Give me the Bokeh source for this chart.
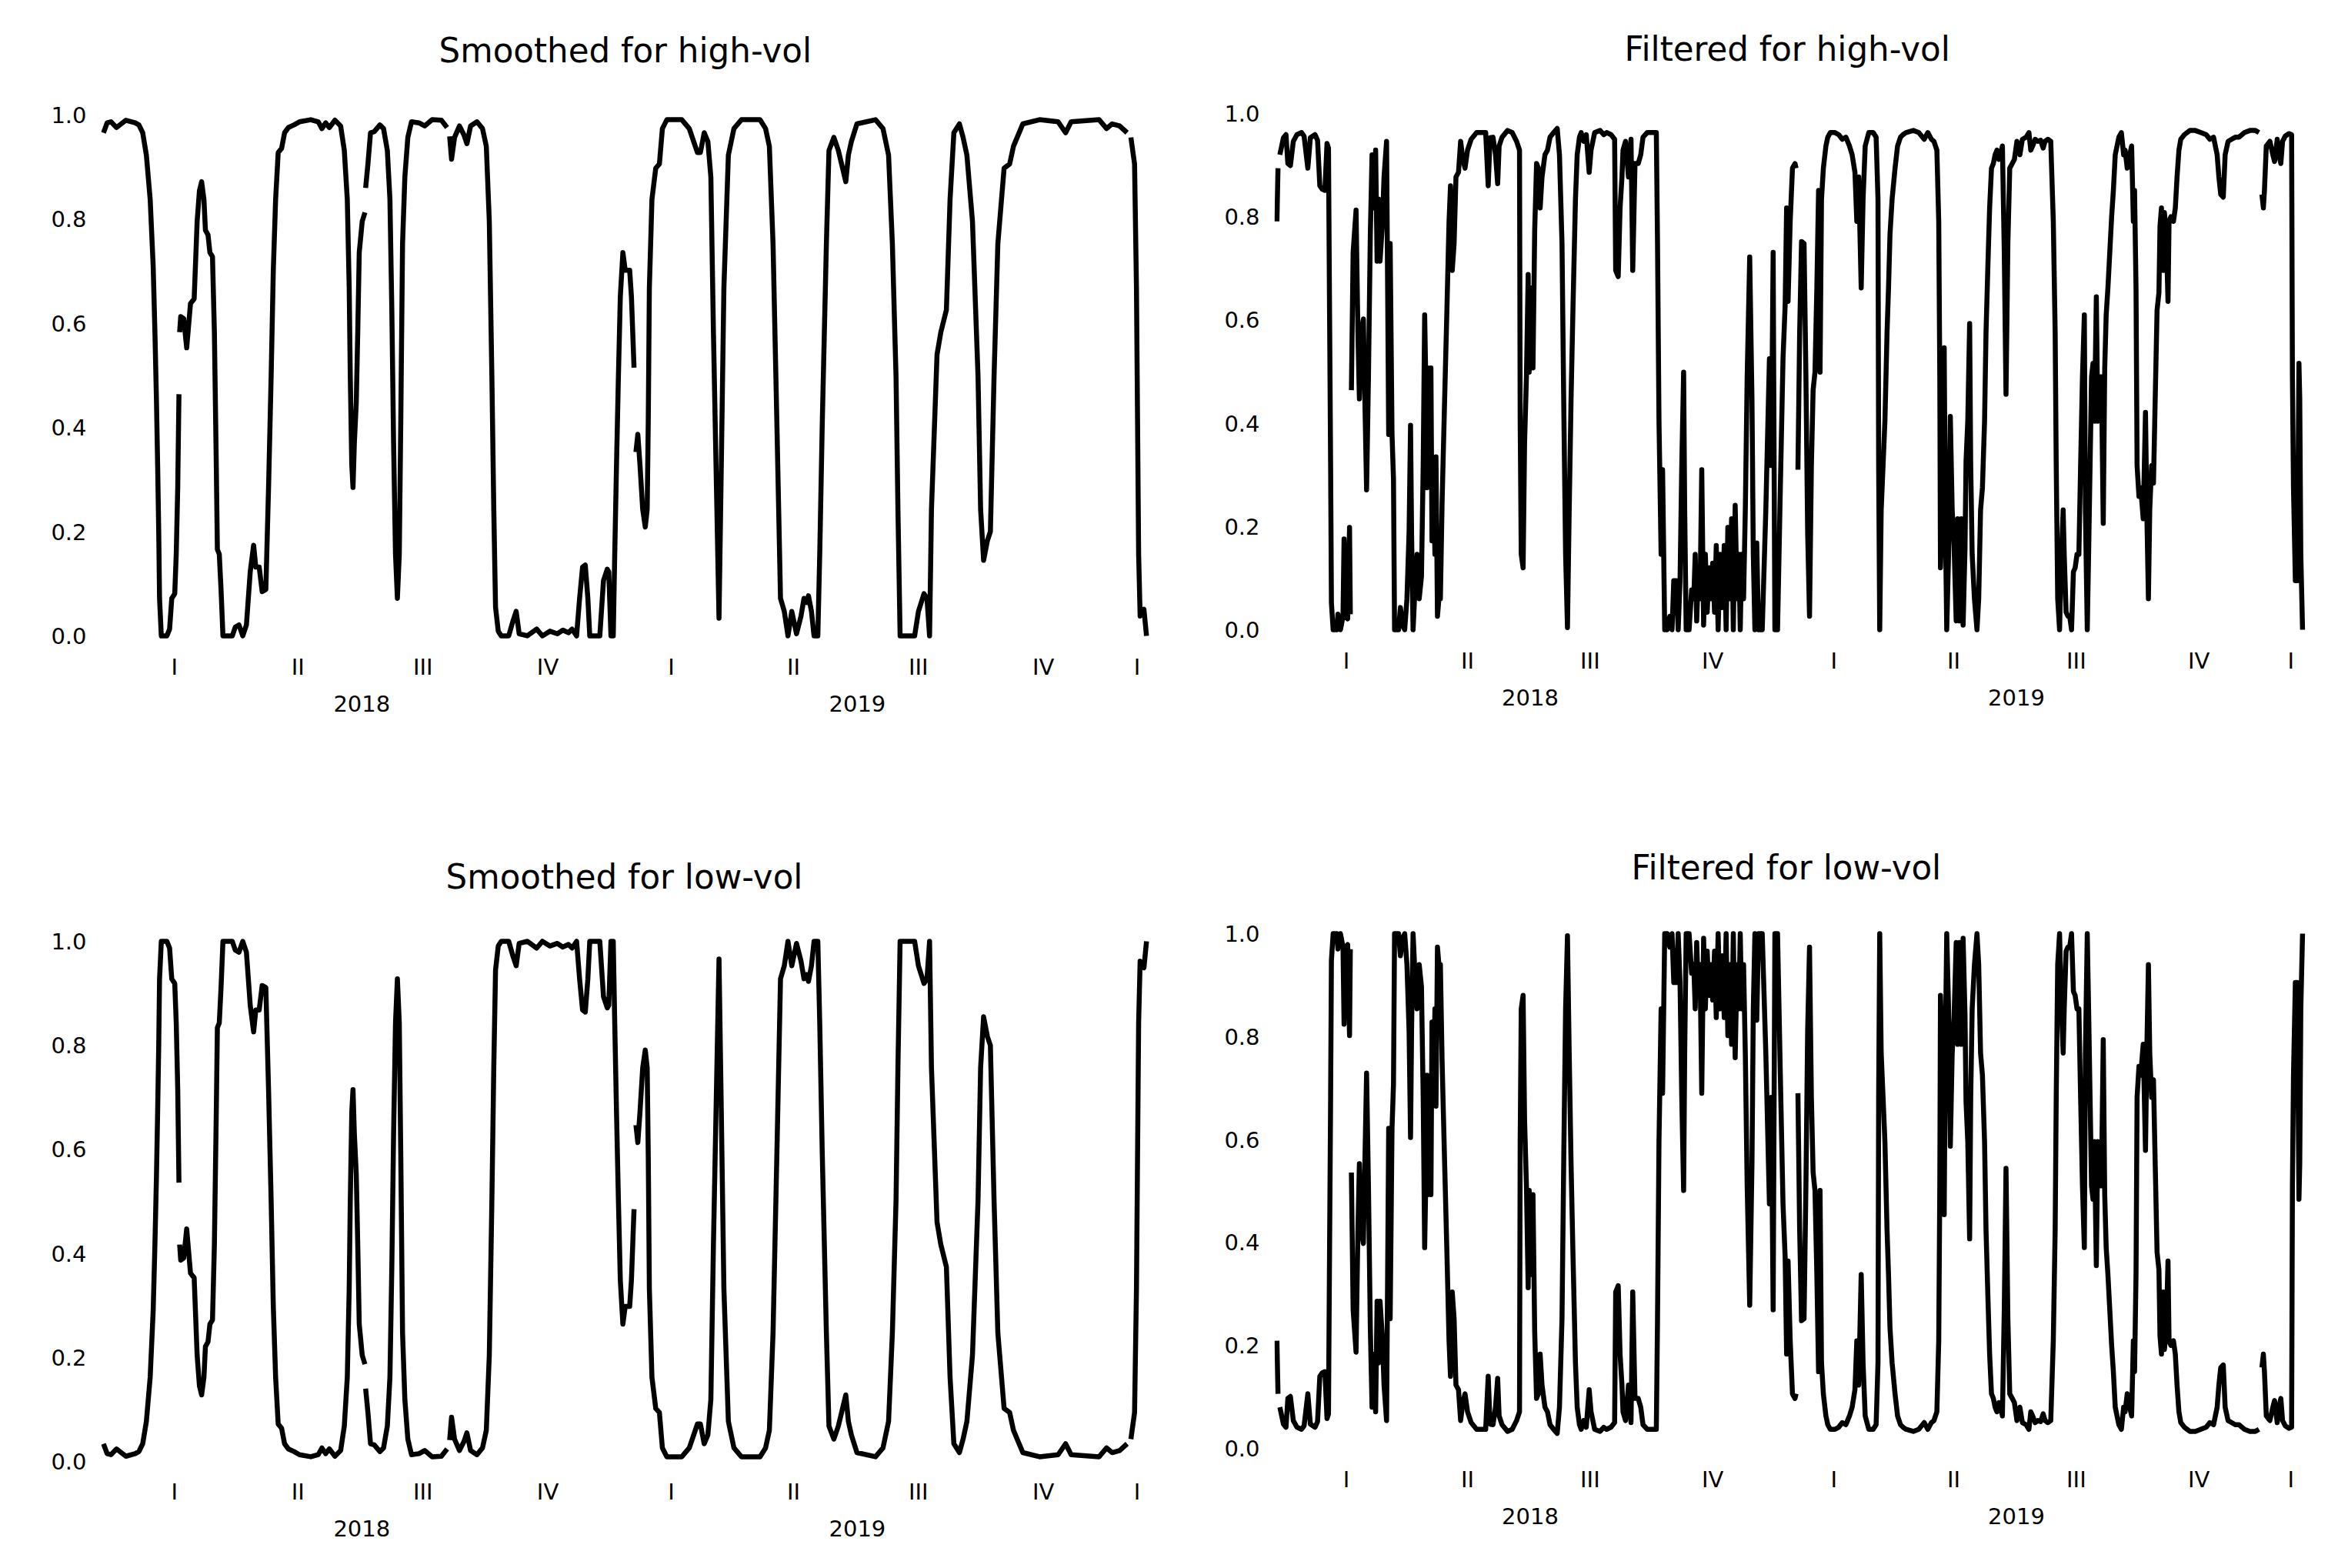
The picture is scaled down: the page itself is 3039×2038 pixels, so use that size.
import numpy as np
from bokeh.embed import file_html
from bokeh.layouts import column, row
from bokeh.models import FixedTicker, LinearAxis, PrintfTickFormatter, Range1d, Title
from bokeh.plotting import figure
from bokeh.resources import INLINE

FONT = "DejaVu Sans"

# Regime probabilities from the two-state volatility model.
# x positions are calendar days counted from 2018-01-01; None marks a break in the series.

smooth_day = [
    -8.3, -5.6, -2.8, 1.3, 8.2, 15.1, 17.8, 20.6, 23.3, 26.1,
    28.3, 29.6, 30.7, 31.6, 32.4, 33.0, 34.3, 38.4, 40.4, 42.0,
    44.2, 45.3, 46.4, 47.3,
    None,
    47.8, 48.6, 50.8, 53.0, 55.8, 58.5, 60.7, 62.4, 64.0, 65.7,
    66.8, 68.7, 70.1, 72.0, 73.4, 74.8, 75.6, 77.0, 78.3, 79.7,
    86.6, 88.8, 91.5, 94.3, 97.0, 99.8, 102.3, 103.9, 106.4, 108.6,
    111.3, 113.3, 115.2, 116.8, 118.5, 120.4, 122.9, 125.1, 127.9, 132.0,
    136.1, 144.4, 149.9, 152.6, 155.4, 158.1, 162.2, 166.4, 169.1, 171.3,
    172.7, 173.5, 174.6, 175.5, 176.5, 177.9, 179.0, 180.1, 182.3, 184.3,
    None,
    184.8, 186.5, 188.4, 191.1, 195.3, 198.0, 200.8, 202.7, 204.1, 205.4,
    206.8, 208.2, 209.6, 210.7, 212.0, 213.7, 215.9, 218.6, 224.1, 228.3,
    233.8, 240.6, 244.8,
    None,
    246.7, 248.1, 250.3, 253.9, 257.2, 259.4, 262.1, 266.8, 270.9, 273.7,
    275.9, 277.8, 279.2, 280.5, 282.5, 284.7, 290.2, 293.5, 295.7, 297.9,
    303.9, 310.8, 315.0, 320.5, 326.0, 330.1, 334.2, 336.9, 340.2, 342.4,
    344.6, 346.6, 348.5, 349.9, 357.3, 360.0, 362.8, 363.9, 365.5, 367.2,
    368.3, 369.6, 371.0, 372.4, 374.3, 376.0, 379.3, 380.6, 382.5,
    None,
    383.9, 385.3, 386.9, 388.9, 390.8, 392.2, 393.0, 393.8, 395.7, 398.5,
    401.2, 403.4, 406.7, 417.7, 423.2, 429.2, 431.4, 434.2, 436.9, 439.1,
    441.0, 442.9, 445.1, 446.8, 448.7, 452.0, 456.1, 461.6, 475.3, 479.4,
    482.2, 484.9, 487.7, 490.4, 493.2, 495.9, 498.7, 502.2, 505.5, 507.7,
    509.6, 511.0, 513.2, 515.1, 517.9, 519.3, 521.2, 524.2, 526.1, 529.7,
    533.0, 538.5, 540.4, 542.6, 546.7, 560.4, 565.9, 570.0, 572.8, 575.5,
    576.9, 578.5, 582.4, 589.2, 592.0, 596.1, 598.3, 600.2, 601.6, 605.7,
    608.5, 612.6, 615.3, 618.1, 622.2, 624.9, 627.7, 631.8, 635.9, 637.8,
    640.0, 642.8, 645.0, 647.7, 650.5, 655.1, 659.2, 662.0, 668.9, 681.2,
    694.9, 700.4, 704.5, 725.1, 730.6, 734.7, 740.2, 745.7,
    None,
    748.5, 751.2, 752.6, 753.4, 754.2, 755.3, 758.1, 760.0,
]

smooth_high = [
    0.966, 0.985, 0.987, 0.976, 0.990, 0.985, 0.981, 0.966, 0.923, 0.838,
    0.711, 0.583, 0.455, 0.328, 0.200, 0.072, 0.000, 0.000, 0.013, 0.072,
    0.081, 0.157, 0.285, 0.464,
    None,
    0.583, 0.613, 0.609, 0.553, 0.638, 0.647, 0.796, 0.855, 0.872, 0.838,
    0.779, 0.770, 0.736, 0.728, 0.583, 0.328, 0.166, 0.157, 0.089, 0.000,
    0.000, 0.017, 0.021, 0.000, 0.021, 0.123, 0.174, 0.132, 0.132, 0.085,
    0.089, 0.285, 0.498, 0.702, 0.838, 0.928, 0.936, 0.966, 0.976, 0.981,
    0.987, 0.991, 0.987, 0.974, 0.985, 0.976, 0.990, 0.979, 0.932, 0.838,
    0.668, 0.498, 0.328, 0.285, 0.370, 0.447, 0.583, 0.736, 0.796, 0.813,
    None,
    0.860, 0.906, 0.966, 0.968, 0.981, 0.974, 0.932, 0.838, 0.626, 0.370,
    0.157, 0.072, 0.157, 0.413, 0.753, 0.881, 0.957, 0.987, 0.985, 0.979,
    0.991, 0.990, 0.976,
    None,
    0.959, 0.915, 0.957, 0.979, 0.962, 0.945, 0.979, 0.987, 0.974, 0.940,
    0.796, 0.498, 0.243, 0.055, 0.009, 0.000, 0.000, 0.030, 0.047, 0.004,
    0.000, 0.013, 0.000, 0.009, 0.004, 0.011, 0.006, 0.013, 0.000, 0.072,
    0.132, 0.136, 0.072, 0.000, 0.000, 0.106, 0.128, 0.123, 0.000, 0.000,
    0.157, 0.328, 0.498, 0.651, 0.736, 0.702, 0.702, 0.651, 0.515,
    None,
    0.353, 0.387, 0.328, 0.243, 0.209, 0.243, 0.413, 0.668, 0.838, 0.898,
    0.906, 0.974, 0.991, 0.991, 0.974, 0.928, 0.928, 0.966, 0.949, 0.881,
    0.583, 0.328, 0.034, 0.328, 0.668, 0.923, 0.974, 0.991, 0.991, 0.974,
    0.940, 0.753, 0.413, 0.072, 0.047, 0.000, 0.047, 0.004, 0.038, 0.072,
    0.064, 0.077, 0.047, 0.000, 0.000, 0.157, 0.413, 0.753, 0.932, 0.957,
    0.932, 0.872, 0.923, 0.949, 0.983, 0.991, 0.974, 0.923, 0.753, 0.498,
    0.243, 0.000, 0.000, 0.000, 0.047, 0.081, 0.072, 0.000, 0.243, 0.540,
    0.583, 0.626, 0.838, 0.966, 0.983, 0.957, 0.923, 0.796, 0.498, 0.243,
    0.145, 0.183, 0.200, 0.498, 0.753, 0.898, 0.906, 0.940, 0.983, 0.991,
    0.987, 0.966, 0.987, 0.991, 0.974, 0.983, 0.979, 0.966,
    None,
    0.957, 0.906, 0.668, 0.413, 0.157, 0.038, 0.051, 0.000,
]

smooth_low = [
    0.034, 0.015, 0.013, 0.024, 0.010, 0.015, 0.019, 0.034, 0.077, 0.162,
    0.289, 0.417, 0.545, 0.672, 0.800, 0.928, 1.000, 1.000, 0.987, 0.928,
    0.919, 0.843, 0.715, 0.536,
    None,
    0.417, 0.387, 0.391, 0.447, 0.362, 0.353, 0.204, 0.145, 0.128, 0.162,
    0.221, 0.230, 0.264, 0.272, 0.417, 0.672, 0.834, 0.843, 0.911, 1.000,
    1.000, 0.983, 0.979, 1.000, 0.979, 0.877, 0.826, 0.868, 0.868, 0.915,
    0.911, 0.715, 0.502, 0.298, 0.162, 0.072, 0.064, 0.034, 0.024, 0.019,
    0.013, 0.009, 0.013, 0.026, 0.015, 0.024, 0.010, 0.021, 0.068, 0.162,
    0.332, 0.502, 0.672, 0.715, 0.630, 0.553, 0.417, 0.264, 0.204, 0.187,
    None,
    0.140, 0.094, 0.034, 0.032, 0.019, 0.026, 0.068, 0.162, 0.374, 0.630,
    0.843, 0.928, 0.843, 0.587, 0.247, 0.119, 0.043, 0.013, 0.015, 0.021,
    0.009, 0.010, 0.024,
    None,
    0.041, 0.085, 0.043, 0.021, 0.038, 0.055, 0.021, 0.013, 0.026, 0.060,
    0.204, 0.502, 0.757, 0.945, 0.991, 1.000, 1.000, 0.970, 0.953, 0.996,
    1.000, 0.987, 1.000, 0.991, 0.996, 0.989, 0.994, 0.987, 1.000, 0.928,
    0.868, 0.864, 0.928, 1.000, 1.000, 0.894, 0.872, 0.877, 1.000, 1.000,
    0.843, 0.672, 0.502, 0.349, 0.264, 0.298, 0.298, 0.349, 0.485,
    None,
    0.647, 0.613, 0.672, 0.757, 0.791, 0.757, 0.587, 0.332, 0.162, 0.102,
    0.094, 0.026, 0.009, 0.009, 0.026, 0.072, 0.072, 0.034, 0.051, 0.119,
    0.417, 0.672, 0.966, 0.672, 0.332, 0.077, 0.026, 0.009, 0.009, 0.026,
    0.060, 0.247, 0.587, 0.928, 0.953, 1.000, 0.953, 0.996, 0.962, 0.928,
    0.936, 0.923, 0.953, 1.000, 1.000, 0.843, 0.587, 0.247, 0.068, 0.043,
    0.068, 0.128, 0.077, 0.051, 0.017, 0.009, 0.026, 0.077, 0.247, 0.502,
    0.757, 1.000, 1.000, 1.000, 0.953, 0.919, 0.928, 1.000, 0.757, 0.460,
    0.417, 0.374, 0.162, 0.034, 0.017, 0.043, 0.077, 0.204, 0.502, 0.757,
    0.855, 0.817, 0.800, 0.502, 0.247, 0.102, 0.094, 0.060, 0.017, 0.009,
    0.013, 0.034, 0.013, 0.009, 0.026, 0.017, 0.021, 0.034,
    None,
    0.043, 0.094, 0.332, 0.587, 0.843, 0.962, 0.949, 1.000,
]

filter_day = [
    -8.1, -7.3,
    None,
    -5.9, -3.2, -1.3, 0.1, 2.0, 4.2, 6.9, 10.4, 12.3, 15.1,
    17.0, 20.5, 22.4, 24.1, 26.0, 27.9, 29.5, 30.6, 31.4, 32.2,
    32.8, 34.1, 36.9, 37.7, 39.6, 41.5, 42.3, 43.7, 45.0, 46.4,
    47.0,
    None,
    47.8, 49.1, 51.3, 52.7, 53.8, 55.1, 56.8, 57.9, 59.2, 60.6,
    62.0, 63.3, 65.0, 66.0, 67.1, 68.2, 69.3, 71.0, 72.3, 74.2,
    75.0, 75.8, 76.9, 78.3, 79.4, 80.2, 81.8, 83.2, 84.6, 86.2,
    87.8, 89.5, 91.1, 92.2, 93.0, 94.1, 95.5, 97.1, 98.7, 100.4,
    101.7, 102.8, 103.6, 104.5, 105.3, 106.4, 107.5, 108.3, 109.4, 110.5,
    111.3, 112.4, 113.5, 114.6, 115.9, 117.8, 119.5, 121.1, 122.2, 123.5,
    124.9, 126.3, 128.2, 129.8, 131.5, 133.1, 135.0, 137.7, 141.8, 145.9,
    148.6, 150.5, 151.9, 154.1, 156.0, 157.6, 158.7, 160.9, 165.0, 168.5,
    171.8, 174.0, 174.5, 175.3, 176.7, 177.8, 179.2, 180.5, 181.3, 182.7,
    184.1, 185.4, 186.8, 188.2, 189.5, 190.9, 193.1, 195.0, 196.9, 199.6,
    202.3, 204.0, 205.9, 207.2, 208.6, 210.0, 211.3, 212.7, 214.1, 216.0,
    217.3, 219.0, 220.3, 222.2, 224.1, 226.3, 227.7, 230.4, 234.5, 237.2,
    239.4, 242.7, 245.4, 246.2, 248.1, 249.5, 250.9, 251.7, 253.6, 255.8,
    257.7, 259.0, 260.7, 263.1, 265.0, 266.7, 269.9, 272.7, 276.7, 277.6,
    278.7, 280.3, 281.4, 283.0, 284.9, 286.8, 288.5, 289.8, 291.7, 293.1,
    294.5, 295.8, 297.2, 298.0, 299.1, 301.3, 303.2, 304.8, 305.9, 307.0,
    308.1, 309.5, 310.8, 312.2, 313.5, 314.9, 316.3, 317.6, 319.0, 320.4,
    321.7, 323.1, 324.5, 326.1, 327.7, 329.1, 330.4, 331.8, 333.2, 334.5,
    335.9, 337.3, 338.6, 339.7, 340.8, 342.2, 343.5, 344.9, 346.8, 348.5,
    349.5, 350.7, 352.1, 353.4, 356.2, 358.9, 361.6, 363.0, 364.4, 365.7,
    367.7, 369.8, 371.8, 373.4, 374.5, 375.6, 377.2, 378.9, 380.8, 381.6,
    None,
    383.0, 384.3, 385.7, 387.6, 389.0, 390.3, 391.7, 393.1, 394.4, 395.8,
    397.2, 398.5, 399.6, 400.7, 402.1, 404.0, 405.4, 407.3, 410.8, 413.6,
    416.3, 419.0, 421.7, 423.7, 425.8, 427.2, 428.6, 430.5, 431.9, 433.5,
    436.2, 439.5, 441.7, 443.1, 443.6, 444.4, 445.5, 446.9, 448.3, 449.9,
    451.0, 452.1, 453.7, 455.9, 457.8, 460.0, 461.9, 464.1, 469.6, 473.7,
    477.8, 480.5, 483.2, 485.1, 487.3, 488.7, 489.5, 490.0, 491.4, 492.8,
    493.6, 494.7, 496.1, 497.4, 498.8, 500.2, 501.8, 502.9, 504.3, 505.6,
    507.0, 508.4, 509.2, 510.5, 511.9, 512.7, 513.8, 515.5, 517.4, 518.7,
    520.1, 521.5, 523.1, 524.2, 525.6, 526.9, 528.3, 529.7, 531.0, 532.4,
    533.8, 535.1, 536.5, 537.9, 539.2, 540.6, 542.0, 543.9, 545.5, 547.4,
    549.6, 551.5, 554.3, 556.4, 557.8, 559.2, 561.1, 563.0, 565.2, 567.1,
    568.5, 570.6, 572.8, 574.7, 576.1, 576.9, 578.0, 579.4, 580.8, 582.1,
    582.9, 584.3, 585.7, 587.0, 588.4, 589.8, 591.1, 592.5, 593.9, 595.2,
    596.6, 598.0, 598.8, 600.2, 601.2, 602.3, 603.4, 604.5, 605.6, 607.0,
    608.1, 609.4, 610.8, 612.2, 613.3, 614.4, 615.7, 617.1, 618.5, 619.8,
    621.2, 623.9, 625.8, 627.5, 628.6, 630.2, 632.1, 633.5, 634.8, 635.7,
    636.8, 637.6, 639.0, 640.3, 642.2, 643.9, 645.0, 646.1, 647.1, 648.5,
    649.9, 651.2, 652.6, 654.0, 654.8, 655.9, 657.3, 658.1, 659.4, 660.8,
    661.6, 663.0, 664.9, 666.3, 667.6, 669.0, 670.4, 673.1, 677.2, 681.3,
    685.4, 689.5, 692.2, 695.0, 697.7, 699.0, 700.4, 702.3, 703.7, 705.9,
    708.6, 711.3, 714.1, 718.2, 722.3, 726.4, 729.1,
    None,
    731.3, 732.4, 733.2, 734.6, 737.3, 739.5, 740.8, 742.8, 744.1, 745.5,
    746.8, 748.8, 751.5, 753.6, 754.2, 755.0, 756.4, 757.8, 759.1, 759.7,
    760.5, 761.8,
]

filter_high = [
    0.791, 0.894,
    None,
    0.920, 0.953, 0.959, 0.903, 0.899, 0.946, 0.959, 0.963, 0.956, 0.894,
    0.953, 0.959, 0.948, 0.860, 0.853, 0.851, 0.942, 0.933, 0.619, 0.318,
    0.052, 0.000, 0.000, 0.030, 0.000, 0.026, 0.176, 0.026, 0.021, 0.198,
    0.030,
    None,
    0.464, 0.731, 0.813, 0.576, 0.447, 0.576, 0.602, 0.447, 0.271, 0.490,
    0.765, 0.920, 0.817, 0.929, 0.714, 0.834, 0.714, 0.782, 0.877, 0.946,
    0.662, 0.378, 0.748, 0.378, 0.292, 0.000, 0.000, 0.000, 0.043, 0.009,
    0.000, 0.060, 0.189, 0.396, 0.181, 0.000, 0.077, 0.146, 0.060, 0.103,
    0.318, 0.610, 0.490, 0.275, 0.507, 0.284, 0.507, 0.172, 0.318, 0.146,
    0.335, 0.026, 0.060, 0.060, 0.249, 0.447, 0.619, 0.791, 0.860, 0.696,
    0.748, 0.877, 0.886, 0.946, 0.911, 0.894, 0.929, 0.950, 0.963, 0.963,
    0.963, 0.860, 0.953, 0.954, 0.920, 0.864, 0.937, 0.954, 0.967, 0.963,
    0.946, 0.929, 0.404, 0.146, 0.120, 0.361, 0.490, 0.688, 0.499, 0.662,
    0.507, 0.774, 0.903, 0.894, 0.817, 0.877, 0.920, 0.929, 0.954, 0.963,
    0.971, 0.920, 0.748, 0.439, 0.146, 0.004, 0.232, 0.447, 0.619, 0.834,
    0.920, 0.954, 0.963, 0.946, 0.959, 0.886, 0.929, 0.963, 0.967, 0.959,
    0.963, 0.959, 0.950, 0.696, 0.684, 0.817, 0.877, 0.929, 0.946, 0.877,
    0.950, 0.696, 0.903, 0.903, 0.920, 0.954, 0.963, 0.963, 0.963, 0.748,
    0.404, 0.146, 0.310, 0.000, 0.000, 0.026, 0.000, 0.095, 0.095, 0.000,
    0.095, 0.318, 0.499, 0.232, 0.000, 0.000, 0.077, 0.060, 0.146, 0.017,
    0.103, 0.060, 0.310, 0.009, 0.146, 0.034, 0.120, 0.060, 0.129, 0.034,
    0.163, 0.000, 0.146, 0.043, 0.163, 0.000, 0.198, 0.060, 0.215, 0.000,
    0.241, 0.060, 0.146, 0.000, 0.146, 0.060, 0.232, 0.490, 0.722, 0.447,
    0.146, 0.000, 0.168, 0.000, 0.000, 0.232, 0.525, 0.318, 0.731, 0.000,
    0.000, 0.275, 0.525, 0.628, 0.817, 0.636, 0.791, 0.894, 0.903, 0.894,
    None,
    0.310, 0.576, 0.752, 0.748, 0.490, 0.189, 0.026, 0.318, 0.464, 0.499,
    0.662, 0.851, 0.499, 0.834, 0.894, 0.937, 0.954, 0.963, 0.963, 0.959,
    0.950, 0.954, 0.937, 0.920, 0.886, 0.791, 0.877, 0.662, 0.834, 0.937,
    0.963, 0.963, 0.954, 0.834, 0.318, 0.000, 0.232, 0.318, 0.404, 0.576,
    0.662, 0.765, 0.834, 0.894, 0.937, 0.954, 0.959, 0.963, 0.967, 0.963,
    0.950, 0.963, 0.950, 0.946, 0.929, 0.791, 0.490, 0.120, 0.232, 0.546,
    0.232, 0.000, 0.146, 0.413, 0.232, 0.163, 0.017, 0.215, 0.017, 0.215,
    0.009, 0.155, 0.327, 0.404, 0.593, 0.318, 0.146, 0.060, 0.000, 0.060,
    0.232, 0.275, 0.404, 0.576, 0.705, 0.817, 0.894, 0.903, 0.920, 0.929,
    0.911, 0.920, 0.937, 0.731, 0.456, 0.748, 0.894, 0.903, 0.911, 0.946,
    0.920, 0.950, 0.954, 0.963, 0.929, 0.937, 0.950, 0.946, 0.948, 0.933,
    0.946, 0.950, 0.946, 0.791, 0.576, 0.318, 0.060, 0.000, 0.146, 0.232,
    0.146, 0.034, 0.026, 0.026, 0.000, 0.112, 0.120, 0.146, 0.146, 0.318,
    0.490, 0.610, 0.232, 0.000, 0.146, 0.318, 0.490, 0.516, 0.404, 0.645,
    0.404, 0.490, 0.490, 0.206, 0.507, 0.610, 0.662, 0.731, 0.800, 0.851,
    0.920, 0.954, 0.963, 0.920, 0.929, 0.894, 0.920, 0.937, 0.791, 0.851,
    0.662, 0.318, 0.258, 0.275, 0.215, 0.421, 0.215, 0.060, 0.232, 0.318,
    0.284, 0.447, 0.619, 0.653, 0.782, 0.817, 0.696, 0.808, 0.774, 0.636,
    0.791, 0.800, 0.791, 0.817, 0.877, 0.929, 0.950, 0.959, 0.967, 0.967,
    0.963, 0.959, 0.950, 0.954, 0.920, 0.877, 0.843, 0.838, 0.920, 0.946,
    0.950, 0.954, 0.954, 0.963, 0.967, 0.967, 0.963,
    None,
    0.843, 0.817, 0.851, 0.937, 0.946, 0.920, 0.907, 0.950, 0.920, 0.903,
    0.946, 0.956, 0.961, 0.959, 0.490, 0.275, 0.095, 0.095, 0.516, 0.447,
    0.146, 0.000,
]

filter_low = [
    0.209, 0.106,
    None,
    0.080, 0.047, 0.041, 0.097, 0.101, 0.054, 0.041, 0.037, 0.044, 0.106,
    0.047, 0.041, 0.052, 0.140, 0.147, 0.149, 0.058, 0.067, 0.381, 0.682,
    0.948, 1.000, 1.000, 0.970, 1.000, 0.974, 0.824, 0.974, 0.979, 0.802,
    0.970,
    None,
    0.536, 0.269, 0.187, 0.424, 0.553, 0.424, 0.398, 0.553, 0.729, 0.510,
    0.235, 0.080, 0.183, 0.071, 0.286, 0.166, 0.286, 0.218, 0.123, 0.054,
    0.338, 0.622, 0.252, 0.622, 0.708, 1.000, 1.000, 1.000, 0.957, 0.991,
    1.000, 0.940, 0.811, 0.604, 0.819, 1.000, 0.923, 0.854, 0.940, 0.897,
    0.682, 0.390, 0.510, 0.725, 0.493, 0.716, 0.493, 0.828, 0.682, 0.854,
    0.665, 0.974, 0.940, 0.940, 0.751, 0.553, 0.381, 0.209, 0.140, 0.304,
    0.252, 0.123, 0.114, 0.054, 0.089, 0.106, 0.071, 0.050, 0.037, 0.037,
    0.037, 0.140, 0.047, 0.046, 0.080, 0.136, 0.063, 0.046, 0.033, 0.037,
    0.054, 0.071, 0.596, 0.854, 0.880, 0.639, 0.510, 0.312, 0.501, 0.338,
    0.493, 0.226, 0.097, 0.106, 0.183, 0.123, 0.080, 0.071, 0.046, 0.037,
    0.029, 0.080, 0.252, 0.561, 0.854, 0.996, 0.768, 0.553, 0.381, 0.166,
    0.080, 0.046, 0.037, 0.054, 0.041, 0.114, 0.071, 0.037, 0.033, 0.041,
    0.037, 0.041, 0.050, 0.304, 0.316, 0.183, 0.123, 0.071, 0.054, 0.123,
    0.050, 0.304, 0.097, 0.097, 0.080, 0.046, 0.037, 0.037, 0.037, 0.252,
    0.596, 0.854, 0.690, 1.000, 1.000, 0.974, 1.000, 0.905, 0.905, 1.000,
    0.905, 0.682, 0.501, 0.768, 1.000, 1.000, 0.923, 0.940, 0.854, 0.983,
    0.897, 0.940, 0.690, 0.991, 0.854, 0.966, 0.880, 0.940, 0.871, 0.966,
    0.837, 1.000, 0.854, 0.957, 0.837, 1.000, 0.802, 0.940, 0.785, 1.000,
    0.759, 0.940, 0.854, 1.000, 0.854, 0.940, 0.768, 0.510, 0.278, 0.553,
    0.854, 1.000, 0.832, 1.000, 1.000, 0.768, 0.475, 0.682, 0.269, 1.000,
    1.000, 0.725, 0.475, 0.372, 0.183, 0.364, 0.209, 0.106, 0.097, 0.106,
    None,
    0.690, 0.424, 0.248, 0.252, 0.510, 0.811, 0.974, 0.682, 0.536, 0.501,
    0.338, 0.149, 0.501, 0.166, 0.106, 0.063, 0.046, 0.037, 0.037, 0.041,
    0.050, 0.046, 0.063, 0.080, 0.114, 0.209, 0.123, 0.338, 0.166, 0.063,
    0.037, 0.037, 0.046, 0.166, 0.682, 1.000, 0.768, 0.682, 0.596, 0.424,
    0.338, 0.235, 0.166, 0.106, 0.063, 0.046, 0.041, 0.037, 0.033, 0.037,
    0.050, 0.037, 0.050, 0.054, 0.071, 0.209, 0.510, 0.880, 0.768, 0.454,
    0.768, 1.000, 0.854, 0.587, 0.768, 0.837, 0.983, 0.785, 0.983, 0.785,
    0.991, 0.845, 0.673, 0.596, 0.407, 0.682, 0.854, 0.940, 1.000, 0.940,
    0.768, 0.725, 0.596, 0.424, 0.295, 0.183, 0.106, 0.097, 0.080, 0.071,
    0.089, 0.080, 0.063, 0.269, 0.544, 0.252, 0.106, 0.097, 0.089, 0.054,
    0.080, 0.050, 0.046, 0.037, 0.071, 0.063, 0.050, 0.054, 0.052, 0.067,
    0.054, 0.050, 0.054, 0.209, 0.424, 0.682, 0.940, 1.000, 0.854, 0.768,
    0.854, 0.966, 0.974, 0.974, 1.000, 0.888, 0.880, 0.854, 0.854, 0.682,
    0.510, 0.390, 0.768, 1.000, 0.854, 0.682, 0.510, 0.484, 0.596, 0.355,
    0.596, 0.510, 0.510, 0.794, 0.493, 0.390, 0.338, 0.269, 0.200, 0.149,
    0.080, 0.046, 0.037, 0.080, 0.071, 0.106, 0.080, 0.063, 0.209, 0.149,
    0.338, 0.682, 0.742, 0.725, 0.785, 0.579, 0.785, 0.940, 0.768, 0.682,
    0.716, 0.553, 0.381, 0.347, 0.218, 0.183, 0.304, 0.192, 0.226, 0.364,
    0.209, 0.200, 0.209, 0.183, 0.123, 0.071, 0.050, 0.041, 0.033, 0.033,
    0.037, 0.041, 0.050, 0.046, 0.080, 0.123, 0.157, 0.162, 0.080, 0.054,
    0.050, 0.046, 0.046, 0.037, 0.033, 0.033, 0.037,
    None,
    0.157, 0.183, 0.149, 0.063, 0.054, 0.080, 0.093, 0.050, 0.080, 0.097,
    0.054, 0.044, 0.039, 0.041, 0.510, 0.725, 0.905, 0.905, 0.484, 0.553,
    0.854, 1.000,
]

# Axis labelling: quarters (centred in each quarter) and years beneath them.
quarter_ticks = [44, 135, 227, 319, 410, 500, 592, 684, 753]
quarter_labels = ["I", "II", "III", "IV", "I", "II", "III", "IV", "I"]
year_ticks = [182, 547]
year_labels = ["2018", "2019"]
prob_ticks = [0.0, 0.2, 0.4, 0.6, 0.8, 1.0]


def style_axis(axis, standoff):
    axis.axis_line_color = None
    axis.major_tick_line_color = None
    axis.minor_tick_line_color = None
    axis.major_tick_out = 0
    axis.major_tick_in = 0
    axis.minor_tick_out = 0
    axis.minor_tick_in = 0
    axis.major_label_standoff = standoff
    axis.major_label_text_font = FONT
    axis.major_label_text_font_size = "29px"
    axis.major_label_text_color = "black"


def panel(title, days, probs, y_lo, y_hi, left, frame_w, right, top, frame_h, bottom,
          title_shift, title_gap, quarter_standoff):
    p = figure(
        frame_width=frame_w, frame_height=frame_h,
        min_border_left=left, min_border_right=right,
        min_border_top=top, min_border_bottom=bottom,
        x_range=Range1d(-10, 776), y_range=Range1d(y_lo, y_hi),
        output_backend="svg", toolbar_location=None, tools="",
    )
    p.background_fill_color = "white"
    p.border_fill_color = "white"
    p.outline_line_color = None
    p.xgrid.visible = False
    p.ygrid.visible = False

    # blank band between the plot area and the heading
    p.add_layout(Title(text=" ", text_font_size="1px", standoff=title_gap), "above")

    p.title.text = title
    p.title.text_font = FONT
    p.title.text_font_size = "43.6px"
    p.title.text_font_style = "normal"
    p.title.text_color = "black"
    p.title.align = "left"
    p.title.offset = title_shift
    p.title.standoff = 10

    x = np.array(days, dtype=float)
    y = np.array(probs, dtype=float)
    p.line(x, y, line_color="black", line_width=6.5, line_join="round")

    qa = p.xaxis[0]
    qa.ticker = FixedTicker(ticks=quarter_ticks, minor_ticks=[])
    qa.major_label_overrides = dict(zip(quarter_ticks, quarter_labels))
    style_axis(qa, quarter_standoff)

    ya = LinearAxis(ticker=FixedTicker(ticks=year_ticks, minor_ticks=[]),
                    major_label_overrides=dict(zip(year_ticks, year_labels)))
    style_axis(ya, 17)
    p.add_layout(ya, "below")

    yax = p.yaxis[0]
    yax.ticker = FixedTicker(ticks=prob_ticks, minor_ticks=[])
    yax.formatter = PrintfTickFormatter(format="%.1f")
    style_axis(yax, 19)
    return p


p1 = panel("Smoothed for high-vol", smooth_day, smooth_high, -0.0089, 1.0133,
           131, 1387, 40, 140, 692, 168, 439, 42, 17)
p2 = panel("Filtered for high-vol", filter_day, filter_high, -0.0209, 1.0104,
           98, 1361, 22, 140, 692, 168, 455, 44, 9)
p3 = panel("Smoothed for low-vol", smooth_day, smooth_low, -0.0059, 1.0266,
           131, 1387, 40, 205, 698, 135, 448, 33, 18)
p4 = panel("Filtered for low-vol", filter_day, filter_low, -0.0314, 1.0120,
           98, 1361, 22, 205, 698, 135, 464, 45, 2)

page = column(row(p1, p2), row(p3, p4))

with open("out.html", "w") as f:
    f.write(file_html(page, INLINE, title="Regime probabilities"))
